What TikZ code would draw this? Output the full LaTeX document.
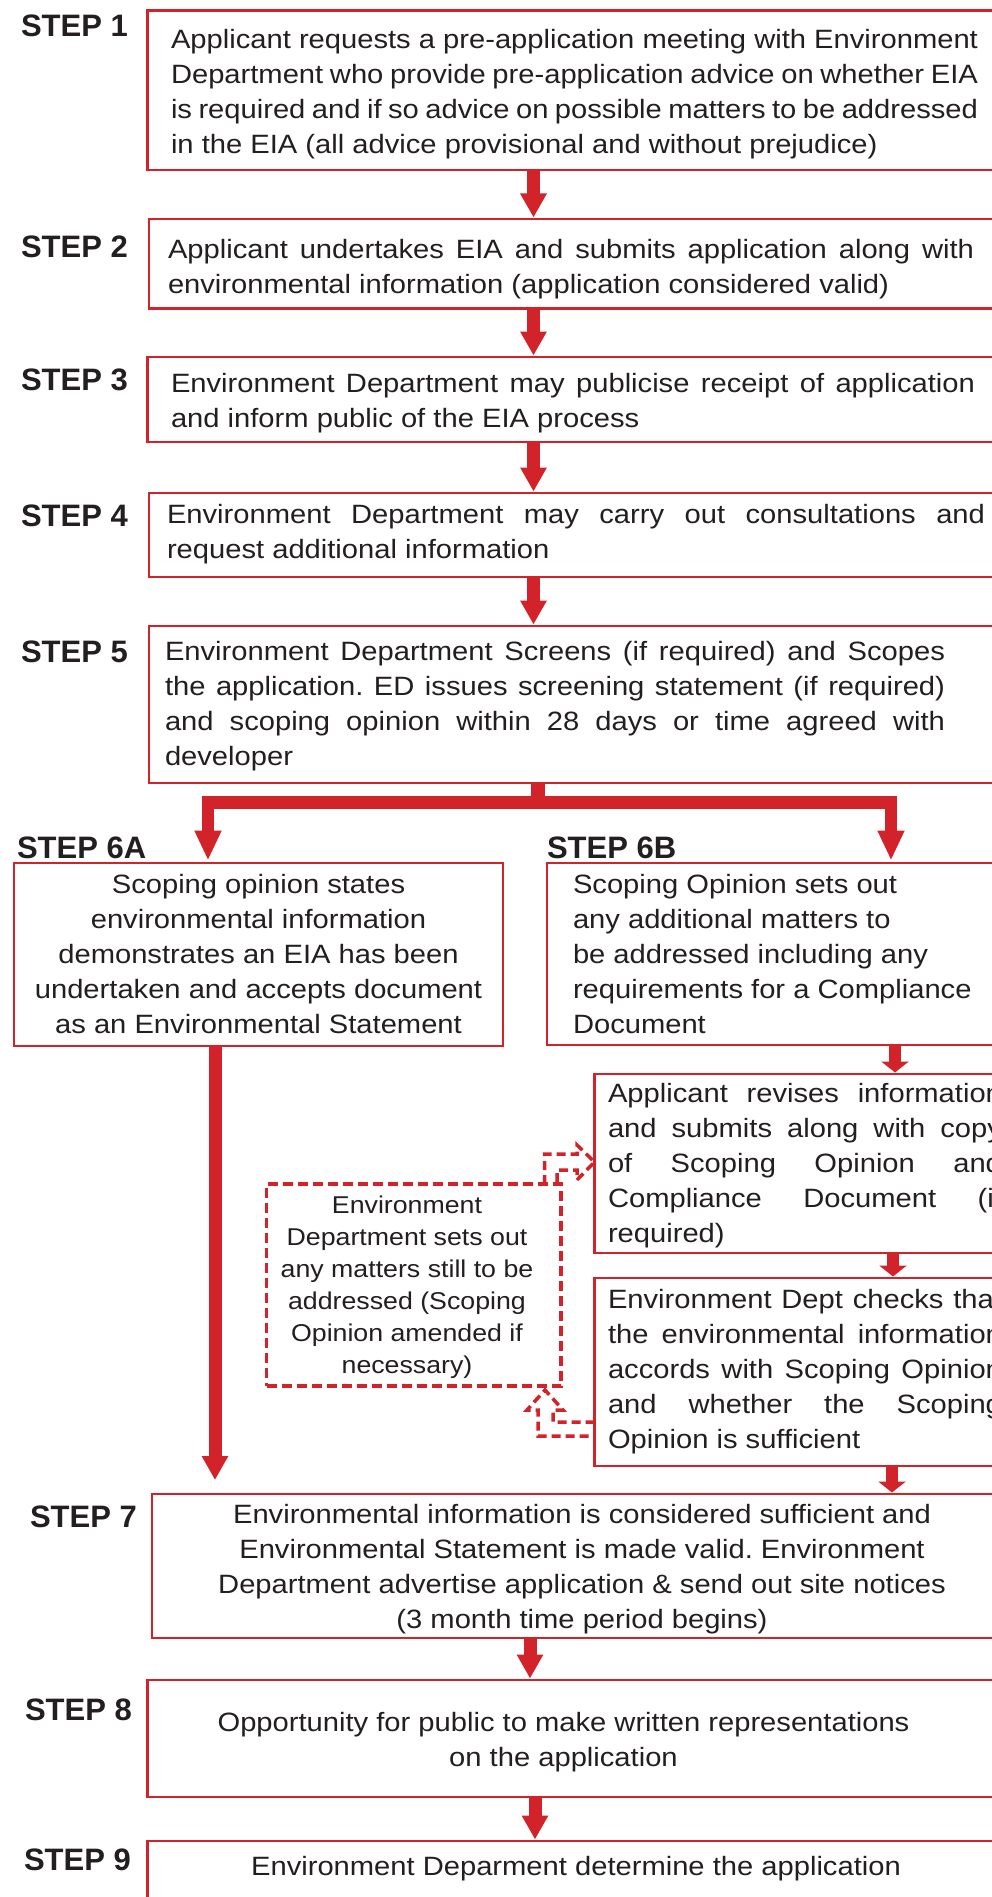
\documentclass[tikz,border=0pt]{standalone}
\usepackage{fontspec}
\setmainfont{Liberation Sans}[FakeStretch=1.1]
\newfontfamily\labelfont{Liberation Sans}
\usetikzlibrary{arrows.meta}
\definecolor{edred}{HTML}{D2232A}
\definecolor{inkc}{HTML}{231F20}
\newcommand\jline[2]{\hbox to #1pt{#2}}
\newcommand\lline[1]{\hbox{#1}}
\newcommand\mline[2]{\hbox to #1pt{\hss#2\hss}}
\newcommand\stack[1]{\vtop{#1}}
\frenchspacing
\begin{document}
\begin{tikzpicture}[x=1pt,y=-1pt,
  box/.style={draw=edred, line width=2.6pt, inner sep=0pt, outer sep=0pt, anchor=north west},
  dbox/.style={draw=edred, line width=3.5pt, dash pattern=on 10pt off 5pt, inner sep=0pt, outer sep=0pt, anchor=north west},
  body/.style={inner sep=0pt, outer sep=0pt, text=inkc, font=\fontsize{26.5}{35}\selectfont},
  smallbody/.style={inner sep=0pt, outer sep=0pt, text=inkc, font=\fontsize{24.3}{32}\selectfont},
  steplabel/.style={inner sep=0pt, outer sep=0pt, text=inkc, anchor=base west, font=\labelfont\bfseries\fontsize{31}{31}\selectfont},
  bigarrow/.style={draw=edred, line width=13pt, shorten >=1.5pt, -{Triangle[width=25pt,length=24pt]}},
  smallarrow/.style={draw=edred, line width=12pt, shorten >=1.5pt, -{Triangle[width=27pt,length=11pt]}},
  barline/.style={draw=edred, line width=14pt},
  branch/.style={draw=edred, line width=12.5pt, shorten >=2.5pt, -{Triangle[width=25pt,length=30pt]}},
  hollow/.style={draw=edred, line width=3.5pt, dash pattern=on 9pt off 5pt},
]
\useasboundingbox (0,0) rectangle (992,1897);
\fill[white] (0,0) rectangle (992,1897);
\clip (0,0) rectangle (992,1897);

% boxes
\node[box, minimum width=880pt, minimum height=159.5pt] (b1) at (147.5,10.5) {};
\node[box, minimum width=880pt, minimum height=89.5pt] (b2) at (149,219) {};
\node[box, minimum width=880pt, minimum height=85pt] (b3) at (147.5,357) {};
\node[box, minimum width=880pt, minimum height=84pt] (b4) at (149,493) {};
\node[box, minimum width=880pt, minimum height=157pt] (b5) at (149,626) {};
\node[box, minimum width=489pt, minimum height=183pt] (b6a) at (14,863) {};
\node[box, minimum width=480pt, minimum height=182pt] (b6b) at (547,863) {};
\node[box, minimum width=450pt, minimum height=179pt] (r1) at (594.5,1074) {};
\node[box, minimum width=450pt, minimum height=188pt] (r2) at (594.5,1278) {};
\node[dbox, minimum width=294.5pt, minimum height=202pt] (d) at (266.5,1184) {};
\node[box, minimum width=880pt, minimum height=144pt] (b7) at (152,1494) {};
\node[box, minimum width=880pt, minimum height=117pt] (b8) at (147.5,1680) {};
\node[box, minimum width=880pt, minimum height=100pt] (b9) at (147.5,1841) {};

% step labels
\node[steplabel] (s1) at (21,37) {STEP 1};
\node[steplabel] (s2) at (21,257) {STEP 2};
\node[steplabel] (s3) at (21,390) {STEP 3};
\node[steplabel] (s4) at (21,526) {STEP 4};
\node[steplabel] (s5) at (21,662) {STEP 5};
\node[steplabel] (s6a) at (17,858) {STEP 6A};
\node[steplabel] (s6b) at (547,858) {STEP 6B};
\node[steplabel] (s7) at (30,1527) {STEP 7};
\node[steplabel] (s8) at (25,1720) {STEP 8};
\node[steplabel] (s9) at (24,1870) {STEP 9};

% texts
\node[body, anchor=base west] (t1) at (171,48.5) {\stack{%
\jline{807}{Applicant requests a pre-application meeting with Environment}%
\jline{807}{Department who provide pre-application advice on whether EIA}%
\jline{807}{is required and if so advice on possible matters to be addressed}%
\lline{in the EIA (all advice provisional and without prejudice)}}};
\node[body, anchor=base west] (t2) at (168,258.3) {\stack{%
\jline{806}{Applicant undertakes EIA and submits application along with}%
\lline{environmental information (application considered valid)}}};
\node[body, anchor=base west] (t3) at (171,392) {\stack{%
\jline{804}{Environment Department may publicise receipt of application}%
\lline{and inform public of the EIA process}}};
\node[body, anchor=base west] (t4) at (167,523) {\stack{%
\jline{818}{Environment Department may carry out consultations and}%
\lline{request additional information}}};
\node[body, anchor=base west] (t5) at (165,660) {\stack{%
\jline{780}{Environment Department Screens (if required) and Scopes}%
\jline{780}{the application. ED issues screening statement (if required)}%
\jline{780}{and scoping opinion within 28 days or time agreed with}%
\lline{developer}}};
\node[body, anchor=base] (t6a) at (258.5,893) {\stack{%
\mline{470}{Scoping opinion states}%
\mline{470}{environmental information}%
\mline{470}{demonstrates an EIA has been}%
\mline{470}{undertaken and accepts document}%
\mline{470}{as an Environmental Statement}}};
\node[body, anchor=base west] (t6b) at (573,893) {\stack{%
\lline{Scoping Opinion sets out}%
\lline{any additional matters to}%
\lline{be addressed including any}%
\lline{requirements for a Compliance}%
\lline{Document}}};
\node[body, anchor=base west] (tr1) at (608,1102) {\stack{%
\jline{394}{Applicant revises information}%
\jline{394}{and submits along with copy}%
\jline{394}{of Scoping Opinion and}%
\jline{394}{Compliance Document (if}%
\lline{required)}}};
\node[body, anchor=base west] (tr2) at (608,1308.3) {\stack{%
\jline{394}{Environment Dept checks that}%
\jline{394}{the environmental information}%
\jline{394}{accords with Scoping Opinion}%
\jline{394}{and whether the Scoping}%
\lline{Opinion is sufficient}}};
\node[smallbody, anchor=base] (td) at (407,1213.3) {\stack{%
\mline{290}{Environment}%
\mline{290}{Department sets out}%
\mline{290}{any matters still to be}%
\mline{290}{addressed (Scoping}%
\mline{290}{Opinion amended if}%
\mline{290}{necessary)}}};
\node[body, anchor=base] (t7) at (582,1523.3) {\stack{%
\mline{800}{Environmental information is considered sufficient and}%
\mline{800}{Environmental Statement is made valid. Environment}%
\mline{800}{Department advertise application \& send out site notices}%
\mline{800}{(3 month time period begins)}}};
\node[body, anchor=base] (t8) at (563.5,1731.7) {\stack{%
\mline{800}{Opportunity for public to make written representations}%
\mline{800}{on the application}}};
\node[body, anchor=base] (t9) at (576,1875) {Environment Deparment determine the application};

% connector columns
\coordinate (m1) at (533.5,0);
\coordinate (stem) at (538,802.5);
\coordinate (lx) at (208,0);
\coordinate (rx) at (891,0);
\coordinate (ax) at (215,0);
\coordinate (q1) at (895,0);
\coordinate (q2) at (893,0);
\coordinate (q3) at (892,0);
\coordinate (m7) at (530,0);
\coordinate (m8) at (535,0);

\draw[bigarrow] (b1.south -| m1) -- (b2.north -| m1);
\draw[bigarrow] (b2.south -| m1) -- (b3.north -| m1);
\draw[bigarrow] (b3.south -| m1) -- (b4.north -| m1);
\draw[bigarrow] (b4.south -| m1) -- (b5.north -| m1);
\draw[barline] (b5.south -| stem) -- (stem);
\draw[branch] (stem) -| (b6a.north -| lx);
\draw[branch] (stem) -| (b6b.north -| rx);
\draw[bigarrow, shorten >=14pt] (b6a.south -| ax) -- (b7.north -| ax);
\draw[smallarrow] (b6b.south -| q1) -- (r1.north -| q1);
\draw[smallarrow] (r1.south -| q2) -- (r2.north -| q2);
\draw[smallarrow] (r2.south -| q3) -- (b7.north -| q3);
\draw[bigarrow] (b7.south -| m7) -- (b8.north -| m7);
\draw[bigarrow] (b8.south -| m8) -- (b9.north -| m8);

% hollow dashed arrows
\coordinate (h1) at (544.5,1154);
\coordinate (h2) at (557,1170);
\coordinate (tiprow) at (0,1162);
\draw[hollow] (d.north -| h1) -- (h1) -- (577,1154) -- (577,1145) -- (r1.west |- tiprow) -- (577,1180) -- (577,1170) -- (h2) -- (d.north -| h2);
\coordinate (g1) at (553,1422);
\coordinate (g2) at (538,1436);
\draw[hollow] (r2.west |- g1) -- (g1) -- (553,1410) -- (563,1410) -- (545,1390) -- (527,1410) -- (538,1410) -- (g2) -- (r2.west |- g2);
\end{tikzpicture}
\end{document}
